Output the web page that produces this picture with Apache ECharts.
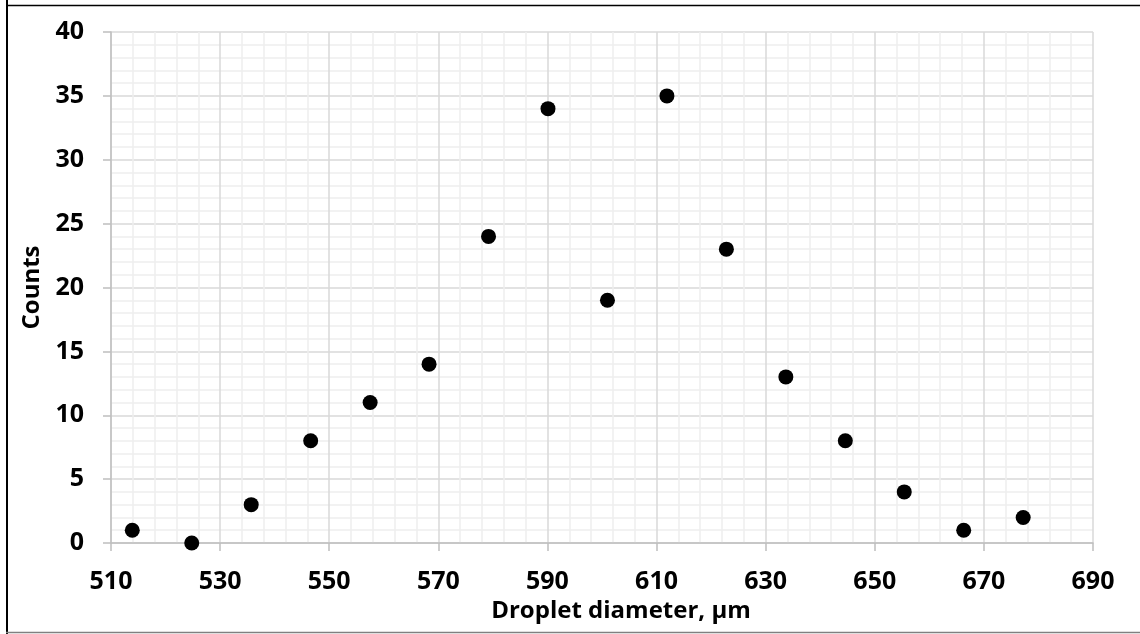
<!DOCTYPE html>
<html>
<head>
<meta charset="utf-8">
<title>Droplet diameter distribution</title>
<script src="https://cdn.jsdelivr.net/npm/echarts@6/dist/echarts.min.js"></script>
<style>
  html, body { margin: 0; padding: 0; background: #fff; }
  #chart { width: 1140px; height: 634px; }
</style>
</head>
<body>
<div id="chart"></div>
<script>
// Droplet diameter bins (µm) and number of droplets counted in each
const diameters = [513.9, 524.8, 535.7, 546.6, 557.5, 568.3, 579.2, 590.1,
                   601.0, 611.9, 622.8, 633.7, 644.6, 655.4, 666.3, 677.2];
const counts = [1, 0, 3, 8, 11, 14, 24, 34, 19, 35, 23, 13, 8, 4, 1, 2];

const xName = 'Droplet diameter, μm';
const yName = 'Counts';

const points = diameters.map((d, i) => [d, counts[i]]);

const font = '"Open Sans", Lato, sans-serif';
const tickFont = 25;
const nameFont = 24;
const axisGrey = '#bfbfbf';
const majorGrid = '#d9d9d9';
const minorGrid = '#eeeeee';

const chart = echarts.init(document.getElementById('chart'), null, { renderer: 'canvas' });

chart.setOption({
  animation: false,
  backgroundColor: '#ffffff',
  grid: { left: 111, right: 47, top: 32, bottom: 91, containLabel: false },
  graphic: [
    // chart frame
    { type: 'line', shape: { x1: 7, y1: 0, x2: 7, y2: 634 }, style: { stroke: '#000', lineWidth: 2 }, silent: true },
    { type: 'line', shape: { x1: 6, y1: 5.5, x2: 1140, y2: 5.5 }, style: { stroke: '#000', lineWidth: 1.5 }, silent: true },
    { type: 'line', shape: { x1: 6, y1: 632.5, x2: 1140, y2: 632.5 }, style: { stroke: '#808080', lineWidth: 1.5 }, silent: true }
  ],
  xAxis: {
    type: 'value',
    min: 510, max: 690, interval: 20,
    name: xName,
    nameLocation: 'middle',
    nameGap: 56,
    // title sits centred on the whole chart area, a little right of the plot centre
    nameTextStyle: { fontFamily: font, fontWeight: 'bold', fontSize: nameFont, color: '#000', padding: [0, 0, 0, 38] },
    axisLine: { show: true, lineStyle: { color: axisGrey, width: 1.5 } },
    axisTick: { show: true, inside: false, length: 8, lineStyle: { color: axisGrey, width: 1.5 } },
    axisLabel: { margin: 26, fontFamily: font, fontWeight: 'bold', fontSize: tickFont, color: '#000' },
    splitLine: { show: true, lineStyle: { color: majorGrid, width: 1.5 } },
    minorTick: { show: false, splitNumber: 5 },
    minorSplitLine: { show: true, lineStyle: { color: minorGrid, width: 1.5 } }
  },
  yAxis: {
    type: 'value',
    min: 0, max: 40, interval: 5,
    name: yName,
    nameLocation: 'middle',
    nameGap: 66,
    nameRotate: 90,
    nameTextStyle: { fontFamily: font, fontWeight: 'bold', fontSize: nameFont, color: '#000' },
    axisLine: { show: true, lineStyle: { color: axisGrey, width: 1.5 } },
    axisTick: { show: true, inside: false, length: 8, lineStyle: { color: axisGrey, width: 1.5 } },
    axisLabel: { margin: 27, fontFamily: font, fontWeight: 'bold', fontSize: tickFont, color: '#000' },
    splitLine: { show: true, lineStyle: { color: majorGrid, width: 1.5 } },
    minorTick: { show: false, splitNumber: 5 },
    minorSplitLine: { show: true, lineStyle: { color: minorGrid, width: 1.5 } }
  },
  series: [{
    type: 'scatter',
    data: points,
    symbol: 'circle',
    symbolSize: 15,
    itemStyle: { color: '#000000', opacity: 1 },
    z: 5
  }]
});
</script>
</body>
</html>
